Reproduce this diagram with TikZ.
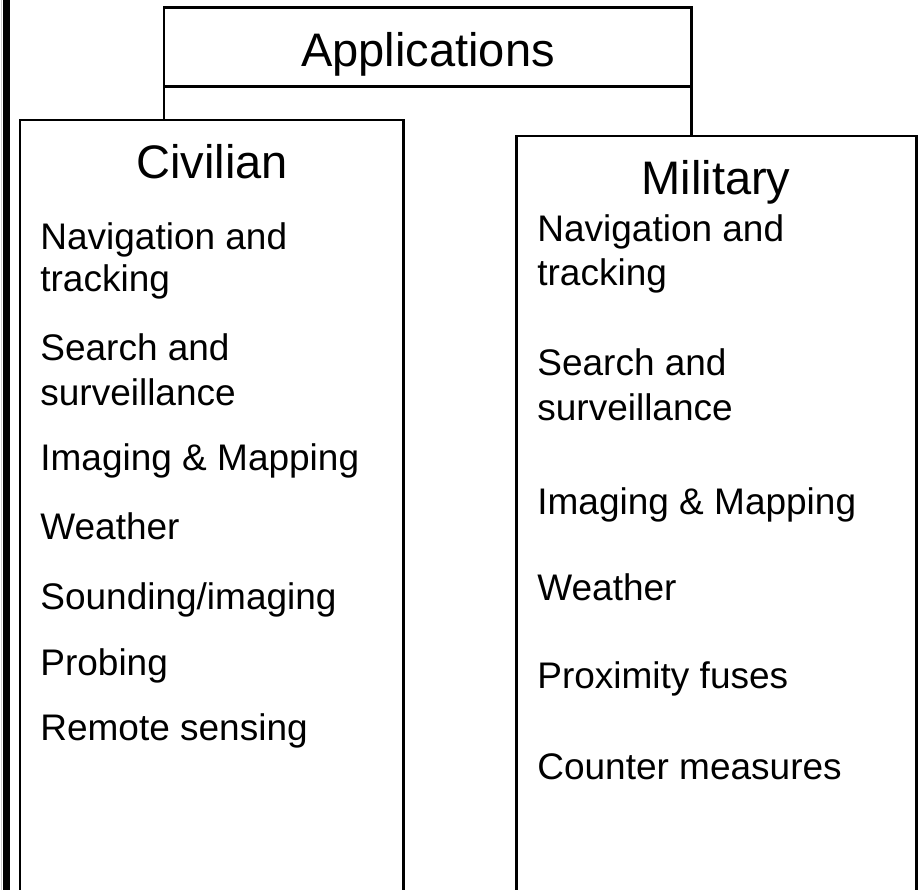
\documentclass[tikz,border=0pt]{standalone}
\usepackage{fontspec}
\setmainfont{Liberation Sans}

\tikzset{
  box/.style={draw, line width=1.7pt, rectangle, inner sep=0pt, outer sep=0pt, anchor=north west},
  title/.style={anchor=base, inner sep=0pt, font=\fontsize{26.7}{30}\selectfont},
  item/.style={anchor=base west, inner sep=0pt, font=\fontsize{21}{24}\selectfont},
}

\begin{document}
\begin{tikzpicture}[x=0.5675pt, y=-0.5675pt]
      \useasboundingbox (0,0) rectangle (921,890);
      % frame on the left
      \draw[gray!40, line width=0.6pt] (1.5,0) -- (1.5,890);
      \draw[line width=4pt] (6.5,0) -- (6.5,890);
      % boxes
      \node[box, minimum width=299.6pt, minimum height=44.8pt] (apps) at (164,8) {};
      \node[box, minimum width=217.9pt, minimum height=454pt] (civ) at (20,120) {};
      \node[box, minimum width=227pt, minimum height=454pt] (mil) at (516,136) {};
      \node[title] (appsname) at (428,67) {Applications};
      \node[title] (civname) at (212,179) {Civilian};
      \node[title] (milname) at (716,195) {Military};
      \draw[line width=1.7pt] (apps.south west) -- (apps.south west |- civ.north)
                              (apps.south east) -- (apps.south east |- mil.north);
      % civilian uses
      \foreach \y/\t [count=\i] in {249/Navigation and, 292/tracking, 360/Search and,
            405/surveillance, 470/Imaging \& Mapping, 539/Weather,
            609/{Sounding/imaging}, 675/Probing, 740/Remote sensing}
        \node[item] (civ\i) at (40,\y) {\t};
      % military uses
      \foreach \y/\t [count=\i] in {242/Navigation and, 285/tracking, 375/Search and,
            420/surveillance, 514/Imaging \& Mapping, 600/Weather,
            688/Proximity fuses, 779/Counter measures}
        \node[item] (mil\i) at (537,\y) {\t};
\end{tikzpicture}
\end{document}
